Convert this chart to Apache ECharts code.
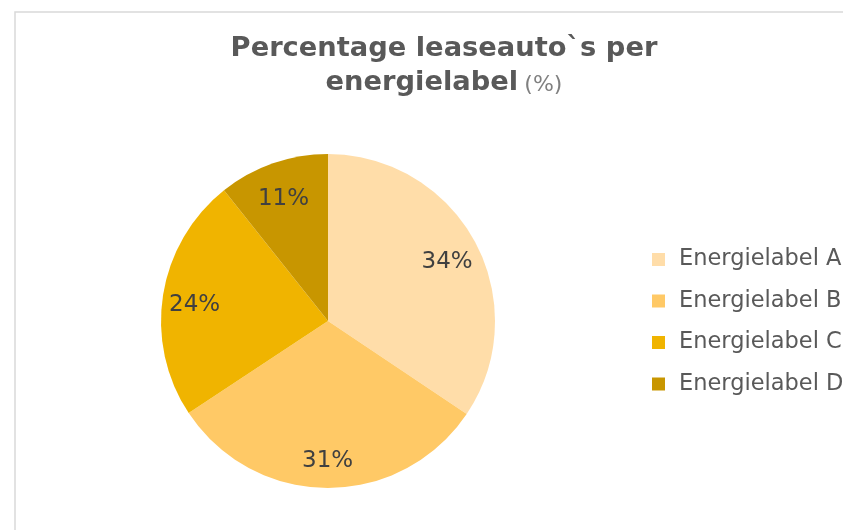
<!DOCTYPE html>
<html>
<head>
<meta charset="utf-8">
<script src="https://cdn.jsdelivr.net/npm/echarts@6/dist/echarts.min.js"></script>
<style>
  html, body { margin: 0; padding: 0; background: #fff; }
  #chart { width: 843px; height: 530px; }
</style>
</head>
<body>
<div id="chart"></div>
<script>
// categories and values (percent shares)
const labels = ['Energielabel A', 'Energielabel B', 'Energielabel C', 'Energielabel D'];
const values = [34.4, 31.3, 23.6, 10.7];
const colors = ['#FFDDA9', '#FFC966', '#F0B400', '#C89600'];

const font = 'DejaVu Sans, Verdana, sans-serif';
const pieData = labels.map((name, i) => ({ name: name, value: values[i], itemStyle: { color: colors[i] } }));

const chart = echarts.init(document.getElementById('chart'));
chart.setOption({
  animation: false,
  textStyle: { fontFamily: font },
  // light grey frame of the chart area
  graphic: [{
    type: 'rect',
    shape: { x: 15, y: 12, width: 900, height: 600 },
    style: { fill: 'none', stroke: '#d9d9d9', lineWidth: 1.5 },
    silent: true
  }],
  title: {
    text: '{a|Percentage leaseauto`s per}\n{a|energielabel} {b|(%)}',
    left: 439,
    top: 27,
    textAlign: 'center',
    textStyle: {
      align: 'center',
      rich: {
        a: { fontFamily: font, fontSize: 27.3, fontWeight: 'bold', color: '#595959', lineHeight: 34 },
        b: { fontFamily: font, fontSize: 22, fontWeight: 'normal', color: '#808080', lineHeight: 34, padding: [4, 0, 0, 0] }
      }
    }
  },
  legend: {
    orient: 'vertical',
    left: 652,
    top: 248,
    padding: 0,
    icon: 'rect',
    itemWidth: 13,
    itemHeight: 13,
    itemGap: 18.5,
    data: labels,
    textStyle: { fontFamily: font, fontSize: 22.5, color: '#595959', padding: [0, 0, 0, 9] }
  },
  series: [
    {
      type: 'pie',
      center: [328, 321],
      radius: 167,
      startAngle: 90,
      clockwise: true,
      label: { show: false },
      labelLine: { show: false },
      emphasis: { disabled: true },
      data: pieData
    },
    {
      // transparent ring only used to place the percentage labels further out
      type: 'pie',
      center: [328, 321],
      radius: [97, 167],
      startAngle: 90,
      clockwise: true,
      silent: true,
      itemStyle: { color: 'rgba(0,0,0,0)' },
      label: {
        show: true,
        position: 'inside',
        fontFamily: font,
        fontSize: 23,
        color: '#404040',
        formatter: p => Math.round(p.value) + '%'
      },
      labelLayout: () => ({ dy: 5 }),
      labelLine: { show: false },
      data: labels.map((name, i) => ({ name: name, value: values[i] }))
    }
  ]
});
</script>
</body>
</html>
